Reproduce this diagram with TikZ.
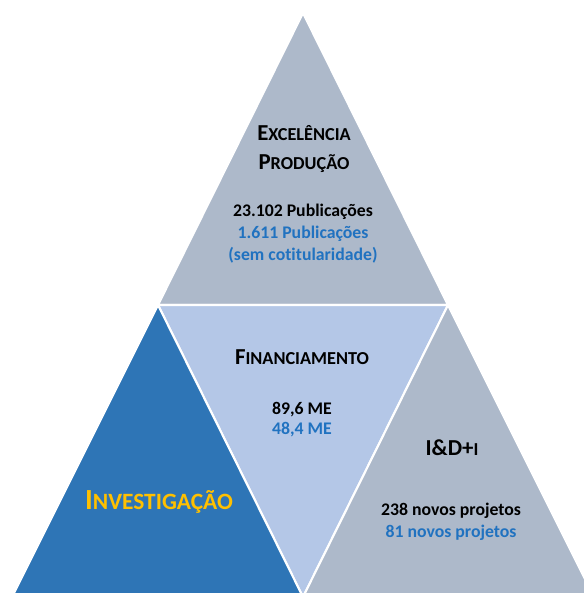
\documentclass[tikz,border=0pt]{standalone}
\usepackage{fontspec}
\setmainfont[Ligatures=NoCommon]{Carlito}
\usetikzlibrary{positioning}

\definecolor{slate}{HTML}{ADB9CA}
\definecolor{paleblue}{HTML}{B4C7E7}
\definecolor{deepblue}{HTML}{2E75B6}
\definecolor{numblue}{HTML}{2072C0}
\definecolor{gold}{HTML}{FFC000}

% smaller capitals for the headings
\newcommand{\lowcaps}[1]{{\fontsize{10.4}{16}\selectfont #1}}
\newcommand{\biglowcaps}[1]{{\fontsize{13.3}{18}\selectfont #1}}

\begin{document}
\begin{tikzpicture}[x=0.02cm, y=-0.02cm,
  tri/.style={draw=white, line width=1.2pt, line join=round},
  head/.style={font=\bfseries\fontsize{13}{16}\selectfont, align=center, inner sep=0pt},
  figs/.style={font=\bfseries\fontsize{10.1}{12.5}\selectfont, align=center, inner sep=0pt}]
\useasboundingbox (0,0) rectangle (584,593);
\clip (0,0) rectangle (584,593);

% corners of the pyramid
\coordinate (apex) at (303,13);
\coordinate (ml) at (158,305);
\coordinate (mr) at (448,305);
\coordinate (bl) at (12,597);
\coordinate (bm) at (303,597);
\coordinate (br) at (594,597);

% the four triangles
\filldraw[tri, fill=slate] (apex) -- (ml) -- (mr) -- cycle;
\filldraw[tri, fill=paleblue] (ml) -- (mr) -- (bm) -- cycle;
\filldraw[tri, fill=deepblue] (ml) -- (bl) -- (bm) -- cycle;
\filldraw[tri, fill=slate] (mr) -- (bm) -- (br) -- cycle;

% top: excelencia
\node[head] (exc) at (304,149) {E\lowcaps{XCELÊNCIA}\\P\lowcaps{RODUÇÃO}};
\node[figs] (pub) at (303,234) {23.102 Publicações\\
  \textcolor{numblue}{1.611 Publicações}\\
  \textcolor{numblue}{(sem cotitularidade)}};

% middle: financiamento
\node[head] (fin) at (302,357) {F\lowcaps{INANCIAMENTO}};
\node[figs, font=\bfseries\fontsize{10.1}{11.4}\selectfont] (me) at (302,420) {89,6 ME\\
  \textcolor{numblue}{48,4 ME}};

% right: I&D+I
\node[head] (idi) at (452,448) {I\&D+\lowcaps{I}};
\node[figs] (proj) at (451,522) {238 novos projetos\\
  \textcolor{numblue}{81 novos projetos}};

% left: investigacao
\node[head, font=\bfseries\fontsize{16.6}{18}\selectfont, text=gold] (inv) at (159,502)
  {I\biglowcaps{NVESTIGAÇÃO}};
\end{tikzpicture}
\end{document}
